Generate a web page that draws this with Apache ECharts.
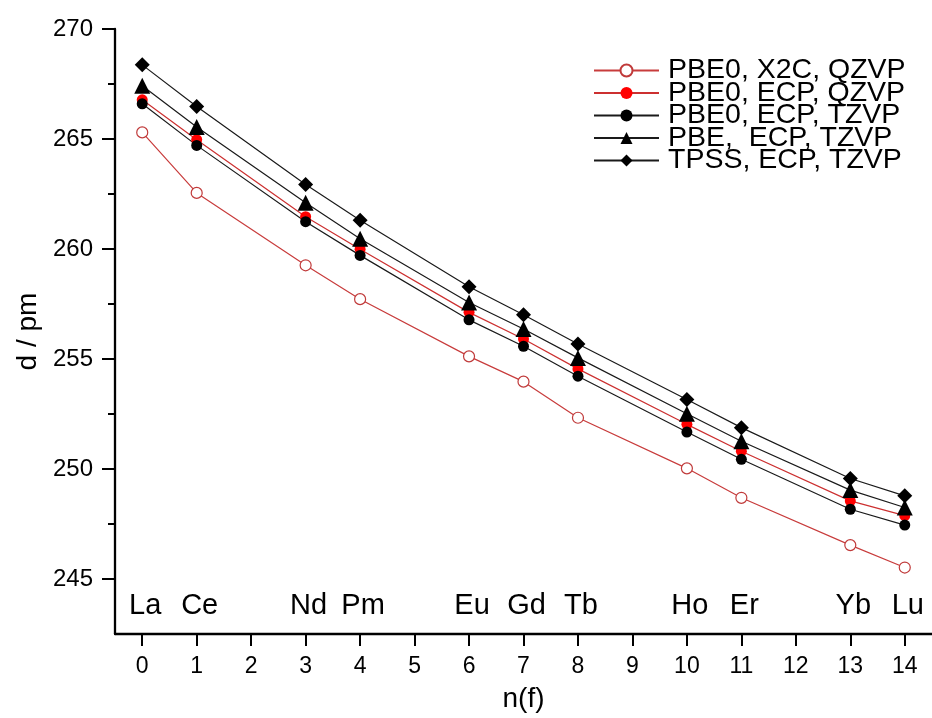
<!DOCTYPE html>
<html>
<head>
<meta charset="utf-8">
<script src="https://cdn.jsdelivr.net/npm/echarts@6/dist/echarts.min.js"></script>
<style>
  html, body { margin: 0; padding: 0; background: #fff; }
  #chart { width: 932px; height: 718px; }
</style>
</head>
<body>
<div id="chart"></div>
<script>
// Number of f electrons (x) and element symbol for each point
const nf = [0, 1, 3, 4, 6, 7, 8, 10, 11, 13, 14];
const elements = ['La', 'Ce', 'Nd', 'Pm', 'Eu', 'Gd', 'Tb', 'Ho', 'Er', 'Yb', 'Lu'];

// Bond distances d / pm for each method
const pbe0X2cQzvp = [265.3, 262.55, 259.26, 257.72, 255.12, 253.97, 252.33, 250.03, 248.69, 246.54, 245.52];
const pbe0EcpQzvp = [266.78, 264.97, 261.47, 259.99, 257.12, 255.91, 254.55, 252.03, 250.81, 248.55, 247.88];
const pbe0EcpTzvp = [266.6, 264.71, 261.24, 259.71, 256.78, 255.58, 254.22, 251.68, 250.44, 248.17, 247.45];
const pbeEcpTzvp = [267.42, 265.55, 262.1, 260.47, 257.57, 256.36, 255.05, 252.51, 251.26, 249.04, 248.25];
const tpssEcpTzvp = [268.37, 266.48, 262.93, 261.31, 258.28, 257.01, 255.68, 253.16, 251.88, 249.57, 248.78];

const seriesNames = ['PBE0, X2C, QZVP', 'PBE0, ECP, QZVP', 'PBE0, ECP, TZVP', 'PBE,  ECP, TZVP', 'TPSS, ECP, TZVP'];

// Axis ticks
const xTicks = [0, 1, 2, 3, 4, 5, 6, 7, 8, 9, 10, 11, 12, 13, 14];
const yMajorTicks = [245, 250, 255, 260, 265, 270];
const yMinorTicks = [247.5, 252.5, 257.5, 262.5, 267.5];

// Height at which the element symbols are written
const elementLabelLevel = 243.77;

const FONT = 'Liberation Sans, Arial, sans-serif';
const pairs = (ys) => nf.map((x, i) => [x, ys[i]]);

const chart = echarts.init(document.getElementById('chart'), null, { renderer: 'canvas' });

const lineSeries = (name, data, symbol, size, lineColor, itemStyle) => ({
  name: name,
  type: 'line',
  data: pairs(data),
  symbol: symbol,
  symbolSize: size,
  showAllSymbol: true,
  lineStyle: { color: lineColor, width: 1.2 },
  itemStyle: itemStyle,
  emphasis: { disabled: true },
  animation: false
});

chart.setOption({
  animation: false,
  backgroundColor: '#fff',
  textStyle: { fontFamily: FONT },
  grid: { left: 115, top: 29, right: -9, bottom: 82, containLabel: false },
  legend: {
    orient: 'vertical',
    left: 593,
    top: 56,
    padding: 0,
    itemWidth: 65,
    itemHeight: 15,
    itemGap: -6.5,
    textStyle: { fontFamily: FONT, fontSize: 28.5, color: '#000', padding: [0, 0, 0, 4] },
    data: seriesNames
  },
  xAxis: {
    type: 'value',
    min: -0.5,
    max: 14.5,
    name: 'n(f)',
    nameLocation: 'middle',
    nameGap: 51,
    nameTextStyle: { fontFamily: FONT, fontSize: 28, color: '#000' },
    axisLine: { show: true, onZero: false, lineStyle: { color: '#000', width: 2.3 } },
    axisTick: { show: true, inside: false, length: 12, lineStyle: { color: '#000', width: 2 }, customValues: xTicks },
    axisLabel: { customValues: xTicks, margin: 21, fontSize: 23, color: '#000', fontFamily: FONT },
    splitLine: { show: false }
  },
  yAxis: [
    {
      type: 'value',
      min: 242.5,
      max: 270,
      name: 'd / pm',
      nameLocation: 'middle',
      nameGap: 71,
      nameRotate: 90,
      nameTextStyle: { fontFamily: FONT, fontSize: 28, color: '#000' },
      axisLine: { show: true, onZero: false, lineStyle: { color: '#000', width: 2.3 } },
      axisTick: { show: true, inside: false, length: 13, lineStyle: { color: '#000', width: 2 }, customValues: yMajorTicks },
      axisLabel: { customValues: yMajorTicks, margin: 22, fontSize: 24, color: '#000', fontFamily: FONT },
      splitLine: { show: false }
    },
    {
      type: 'value',
      min: 242.5,
      max: 270,
      position: 'left',
      axisLine: { show: false, onZero: false },
      axisTick: { show: true, inside: false, length: 7, lineStyle: { color: '#000', width: 2 }, customValues: yMinorTicks },
      axisLabel: { show: false },
      splitLine: { show: false }
    }
  ],
  series: [
    lineSeries(seriesNames[0], pbe0X2cQzvp, 'circle', 11, '#c83c3c',
      { color: '#fff', borderColor: '#c03a3a', borderWidth: 1.2 }),
    lineSeries(seriesNames[1], pbe0EcpQzvp, 'circle', 11, '#cc3030',
      { color: '#ff0000', borderWidth: 0 }),
    lineSeries(seriesNames[2], pbe0EcpTzvp, 'circle', 11, '#1a1a1a',
      { color: '#000', borderWidth: 0 }),
    lineSeries(seriesNames[3], pbeEcpTzvp, 'triangle', 16, '#1a1a1a',
      { color: '#000', borderWidth: 0 }),
    lineSeries(seriesNames[4], tpssEcpTzvp, 'diamond', 15, '#1a1a1a',
      { color: '#000', borderWidth: 0 }),
    {
      // element symbols written along the bottom of the plot
      name: 'elements',
      type: 'scatter',
      data: nf.map((x, i) => ({ value: [x, elementLabelLevel], name: elements[i] })),
      symbolSize: 0,
      silent: true,
      itemStyle: { color: '#000', opacity: 1 },
      label: {
        show: true,
        position: 'inside',
        formatter: (p) => p.name,
        fontFamily: FONT,
        fontSize: 29,
        color: '#000',
        opacity: 1,
        textBorderWidth: 0,
        textBorderColor: 'transparent',
        offset: [3, 0]
      },
      animation: false
    }
  ]
});
</script>
</body>
</html>
